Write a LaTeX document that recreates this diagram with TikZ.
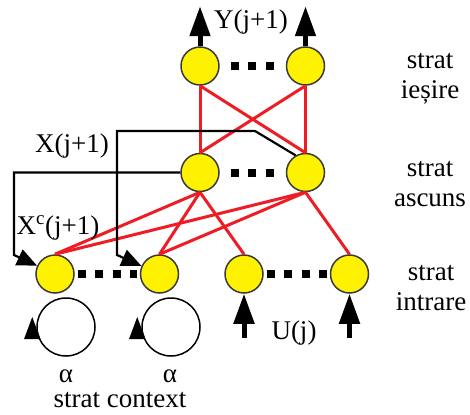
\documentclass[tikz,border=0pt]{standalone}
\usepackage{fontspec}
\setmainfont{Liberation Serif}
\usepackage{xcolor}
\definecolor{cNeuron}{HTML}{FFF200}
\definecolor{cEdge}{HTML}{EE1C25}
\definecolor{cRim}{HTML}{3A3A3A}
\usepackage{tikz}
\usetikzlibrary{positioning,arrows.meta}
\tikzset{
  neuron/.style={circle,draw=cRim,line width=1.5pt,fill=cNeuron,
    minimum size=38pt,inner sep=0pt},
  weight/.style={draw=cEdge,line width=3pt},
  feedback/.style={draw=black,line width=2.2pt,
    -{Triangle[length=20pt,width=17pt]}},
  io-arrow/.style={draw=black,line width=5pt,
    -{Triangle[length=30pt,width=20pt]}},
  dot-row/.style={draw=black,line width=8pt,dash pattern=on 8pt off 9.5pt},
  self-loop/.style={circle,draw=black,line width=1.5pt,
    minimum size=58pt,inner sep=0pt},
  loop-tip/.style={draw=black,line width=1.5pt,
    -{Triangle[length=22pt,width=16pt]}},
  layer-label/.style={align=center,anchor=center},
}

\begin{document}
\begin{tikzpicture}[x=1pt,y=-1pt,node distance=66pt,
    font=\fontsize{27}{30}\selectfont]
  \useasboundingbox (0,0) rectangle (470,414);
  % straturi
  \node[neuron] (o1) at (200,66) {};
  \node[neuron,right=of o1] (o2) {};
  \node[neuron,below=67pt of o1] (h1) {};
  \node[neuron,right=of h1] (h2) {};
  \node[neuron] (c1) at (55,274) {};
  \node[neuron,right=65pt of c1] (c2) {};
  \node[neuron,right=45pt of c2] (i1) {};
  \node[neuron,right=of i1] (i2) {};
  \draw[dot-row,shorten <=11pt,shorten >=11pt] (o1.east) -- (o2.west);
  \draw[dot-row,shorten <=11pt,shorten >=11pt] (h1.east) -- (h2.west);
  \draw[dot-row,shorten <=3pt,shorten >=3pt] (c1.east) -- (c2.west);
  \draw[dot-row,shorten <=3pt,shorten >=3pt] (i1.east) -- (i2.west);
  % ponderi
  \foreach \a in {o1,o2}
    \foreach \b in {h1,h2}
      \draw[weight] (\a.south) -- (\b.north);
  \foreach \b in {c1,c2,i1}
    \draw[weight] (h1.south) -- (\b.north);
  \foreach \b in {c1,c2,i2}
    \draw[weight] (h2.south) -- (\b.north);
  % reactie X(j+1)
  \draw[feedback] (h1.west) -| (14,255) -- (c1);
  \draw[feedback] (h2.120) -- (255,131) -- (117,131) -- (117,255) -- (c2);
  % iesiri si intrari
  \coordinate[above=40pt of o1] (y1);
  \coordinate[above=40pt of o2] (y2);
  \draw[io-arrow] (o1) -- (y1);
  \draw[io-arrow] (o2) -- (y2);
  \coordinate[below=44pt of i1] (u1);
  \coordinate[below=44pt of i2] (u2);
  \draw[io-arrow] (u1) -- (i1);
  \draw[io-arrow] (u2) -- (i2);
  % bucle context
  \node[self-loop] (l1) at (66,327) {};
  \node[self-loop] (l2) at (171,327) {};
  \draw[loop-tip] ([xshift=-4pt,yshift=-10pt]l1.west) -- ([xshift=-4pt,yshift=10pt]l1.west);
  \draw[loop-tip] ([xshift=-4pt,yshift=-10pt]l2.west) -- ([xshift=-4pt,yshift=10pt]l2.west);
  % etichete
  \node[anchor=base] (ylab) at (251,29) {Y(j+1)};
  \node[anchor=base] (xlab) at (72,152) {X(j+1)};
  \node[anchor=base] (xclab) at (58,234) {X\textsuperscript{c}(j+1)};
  \node[anchor=base] (ulab) at (294,339) {U(j)};
  \node[anchor=base,inner sep=1pt] (a1) at (66,382) {α};
  \node[anchor=base,inner sep=1pt] (a2) at (170,382) {α};
  \node[anchor=base,inner sep=1pt] (ctx) at (120,407) {strat context};
  \node[layer-label] (lo) at (430,79) {strat\\ieșire};
  \node[layer-label] (lh) at (430,184) {strat\\ascuns};
  \node[layer-label] (li) at (431,288) {strat\\intrare};
\end{tikzpicture}
\end{document}
